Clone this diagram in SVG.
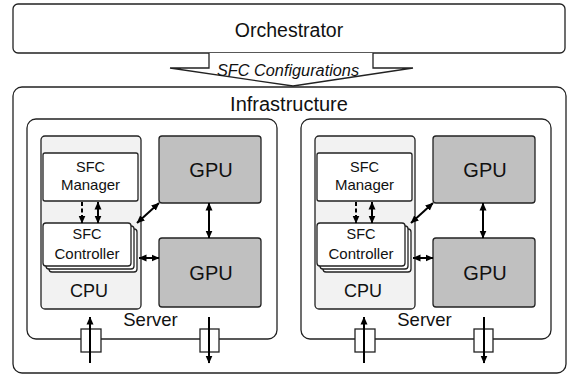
<svg xmlns="http://www.w3.org/2000/svg" width="567" height="377" viewBox="0 0 567 377">
<style>
text{font-family:"Liberation Sans",Arial,sans-serif;fill:#111;text-anchor:middle}
.box{fill:#fff;stroke:#222;stroke-width:1.3}
.cpu{fill:#f2f2f2;stroke:#222;stroke-width:1.3}
.gpu{fill:#c0c0c0;stroke:#222;stroke-width:1.3}
.ar{stroke:#000;stroke-width:2;fill:none}
.dash{stroke-dasharray:4 2.5}
</style>
<defs>
<marker id="ah" markerUnits="userSpaceOnUse" markerWidth="8" markerHeight="8" viewBox="0 0 8 7" refX="7.5" refY="3.5" orient="auto-start-reverse">
<path d="M0,0 L8,3.5 L0,7 z" fill="#000"/>
</marker>
<g id="server">
<rect class="box" x="27" y="119" width="250" height="220" rx="9"/>
<rect class="cpu" x="41" y="136" width="100" height="173" rx="4"/>
<rect class="box" x="43" y="153" width="95" height="48" rx="2"/>
<text x="90.5" y="172" font-size="14.5">SFC</text>
<text x="90.5" y="190" font-size="15">Manager</text>
<rect class="box" x="49" y="229" width="88" height="43" rx="3"/>
<rect class="box" x="46" y="226" width="88" height="43" rx="3"/>
<rect class="box" x="43" y="223" width="88" height="43" rx="3"/>
<text x="87" y="239" font-size="14.5">SFC</text>
<text x="87" y="259" font-size="15">Controller</text>
<text x="89" y="297" font-size="18">CPU</text>
<rect class="gpu" x="159" y="136" width="102" height="67" rx="3"/>
<text x="211" y="177" font-size="20">GPU</text>
<rect class="gpu" x="159" y="238" width="102" height="69" rx="3"/>
<text x="211" y="280" font-size="20">GPU</text>
<text x="150.5" y="326" font-size="18.5">Server</text>
</g>
</defs>

<g id="orchestrator">
<rect class="box" x="13" y="4" width="552" height="49" rx="5"/>
<text x="289" y="37" font-size="19.5">Orchestrator</text>
</g>

<g id="sfc-configurations">
<path d="M209,53 V68 H170 L293,86 L413,68 H373 V53" fill="#fff" stroke="#222" stroke-width="1.3"/>
<text x="288" y="76" font-size="16.3" font-style="italic">SFC Configurations</text>
</g>

<g id="infrastructure">
<rect class="box" x="13" y="87" width="553" height="286" rx="9"/>
<text x="289" y="111" font-size="20">Infrastructure</text>
</g>

<g id="server-left">
<use href="#server"/>
</g>
<g id="server-right">
<use href="#server" x="274"/>
</g>

<g id="ports">
<rect class="box" x="81" y="329" width="20" height="23"/>
<rect class="box" x="200" y="329" width="19" height="23"/>
<rect class="box" x="355" y="329" width="20" height="23"/>
<rect class="box" x="474" y="329" width="19" height="23"/>
</g>

<g id="connectors">
<line class="ar" x1="90" y1="363" x2="90" y2="317" marker-end="url(#ah)"/>
<line class="ar" x1="209" y1="317" x2="209" y2="363" marker-end="url(#ah)"/>
<line class="ar" x1="364" y1="363" x2="364" y2="317" marker-end="url(#ah)"/>
<line class="ar" x1="484" y1="317" x2="484" y2="363" marker-end="url(#ah)"/>

<line class="ar dash" x1="82" y1="202" x2="82" y2="223" marker-end="url(#ah)"/>
<line class="ar" x1="98" y1="202" x2="98" y2="223" marker-start="url(#ah)" marker-end="url(#ah)"/>
<line class="ar" x1="137" y1="223" x2="159" y2="203" marker-start="url(#ah)" marker-end="url(#ah)"/>
<line class="ar" x1="139" y1="258" x2="159" y2="258" marker-start="url(#ah)" marker-end="url(#ah)"/>
<line class="ar" x1="209" y1="203" x2="209" y2="238" marker-start="url(#ah)" marker-end="url(#ah)"/>

<line class="ar dash" x1="356" y1="202" x2="356" y2="223" marker-end="url(#ah)"/>
<line class="ar" x1="372" y1="202" x2="372" y2="223" marker-start="url(#ah)" marker-end="url(#ah)"/>
<line class="ar" x1="411" y1="223" x2="433" y2="203" marker-start="url(#ah)" marker-end="url(#ah)"/>
<line class="ar" x1="413" y1="258" x2="433" y2="258" marker-start="url(#ah)" marker-end="url(#ah)"/>
<line class="ar" x1="483" y1="203" x2="483" y2="238" marker-start="url(#ah)" marker-end="url(#ah)"/>
</g>
</svg>
